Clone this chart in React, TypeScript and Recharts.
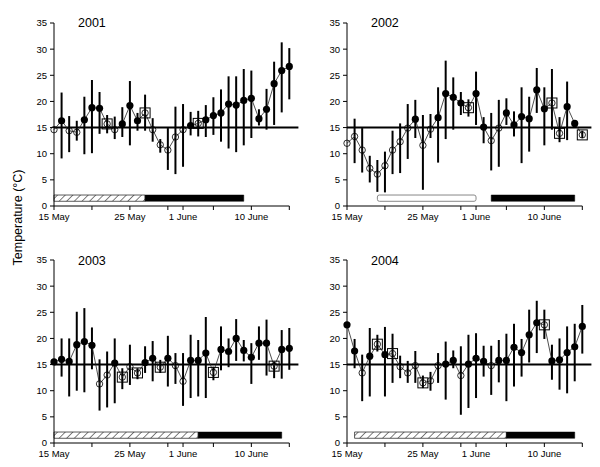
import {
  ComposedChart, ErrorBar, Line, ReferenceArea, ReferenceLine, XAxis, YAxis,
} from "recharts";

const FONT = "'Liberation Sans', Arial, Helvetica, sans-serif";

// day index 0 = 15 May ... 31 = 15 June
const days = [0, 1, 2, 3, 4, 5, 6, 7, 8, 9, 10, 11, 12, 13, 14, 15, 16, 17, 18, 19, 20, 21, 22, 23, 24, 25, 26, 27, 28, 29, 30, 31];
const tickDays = [0, 5, 10, 15, 17, 21, 26, 31];
const tickText = ["15 May", "", "25 May", "", "1 June", "", "10 June", ""];
const yTicks = [0, 5, 10, 15, 20, 25, 30, 35];
const threshold = 15;

const mean2001 = [14.6, 16.3, 14.4, 14.1, 16.5, 18.8, 18.7, 15.7, 14.6, 15.7, 19.2, 16.3, 17.8, 14.6, 11.7, 10.7, 13.2, 14.6, 15.4, 15.8, 16.5, 17.3, 17.8, 19.5, 19.3, 20.2, 20.6, 16.7, 18.5, 23.4, 25.9, 26.7];
const low2001 = [14.6, 9.1, 10.3, 12.5, 9.9, 10.1, 13.8, 13.9, 12.8, 13.2, 11.6, 14.4, 14.4, 12.3, 10.2, 6.9, 6.1, 7.5, 13.5, 13.3, 13.2, 13.6, 12.3, 11.0, 10.3, 11.6, 13.0, 15.4, 14.6, 15.5, 17.9, 20.4];
const high2001 = [14.6, 21.7, 17.2, 16.3, 20.9, 24.1, 21.8, 17.4, 17.1, 18.9, 23.9, 17.8, 21.3, 16.8, 12.8, 14.9, 19.0, 19.5, 18.0, 18.2, 19.3, 20.8, 22.3, 24.8, 24.8, 26.2, 25.9, 18.5, 22.4, 27.6, 31.3, 30.2];
const boxed2001 = [7, 12, 19];

const mean2002 = [12.0, 13.3, 10.7, 7.2, 6.1, 7.7, 10.7, 12.3, 14.9, 16.6, 11.6, 14.7, 16.9, 21.5, 20.8, 19.7, 18.8, 21.5, 15.1, 12.5, 14.9, 17.8, 15.5, 17.1, 16.7, 22.2, 18.6, 19.7, 13.9, 19.0, 15.8, 13.6];
const low2002 = [12.0, 8.2, 6.4, 4.5, 2.7, 2.6, 6.1, 6.3, 9.0, 13.0, 3.1, 13.0, 8.3, 12.8, 14.6, 17.4, 17.1, 15.5, 12.0, 6.8, 7.5, 15.5, 13.3, 8.2, 10.4, 17.8, 11.6, 14.6, 12.2, 12.6, 15.2, 13.0];
const high2002 = [12.0, 16.7, 14.9, 9.6, 8.8, 10.4, 14.4, 15.8, 19.5, 20.3, 17.4, 17.6, 22.7, 27.8, 24.6, 21.8, 20.4, 25.7, 17.0, 17.8, 20.3, 20.6, 18.1, 22.7, 20.9, 26.4, 22.7, 26.2, 17.0, 23.8, 16.3, 14.4];
const boxed2002 = [16, 27, 28, 31];

const mean2003 = [15.5, 16.0, 15.6, 18.8, 19.4, 18.7, 11.3, 13.0, 15.3, 12.6, 14.6, 13.4, 15.4, 16.2, 14.5, 16.2, 14.8, 11.8, 15.8, 15.8, 17.2, 13.5, 17.9, 17.5, 20.0, 17.7, 16.4, 19.1, 19.1, 14.7, 17.9, 18.1];
const low2003 = [15.5, 12.7, 8.9, 10.0, 9.7, 14.1, 6.2, 6.8, 7.6, 10.3, 11.1, 12.2, 13.4, 11.8, 13.4, 10.8, 11.3, 7.1, 8.6, 8.9, 8.6, 12.0, 13.9, 14.5, 15.7, 15.6, 11.3, 15.9, 12.9, 12.4, 12.3, 14.0];
const high2003 = [15.5, 20.0, 20.0, 25.1, 25.8, 22.1, 16.0, 17.5, 20.0, 14.3, 18.8, 14.3, 18.5, 19.5, 15.9, 20.5, 17.2, 17.2, 20.7, 19.7, 24.1, 14.6, 22.3, 20.0, 23.7, 19.7, 19.1, 22.3, 23.6, 15.6, 21.6, 22.0];
const boxed2003 = [9, 11, 14, 21, 29];

const mean2004 = [22.6, 17.6, 13.4, 16.6, 18.9, 16.9, 17.1, 14.6, 13.4, 14.8, 11.5, 11.9, 14.8, 15.1, 15.8, 12.9, 15.1, 16.2, 15.6, 14.8, 15.8, 15.8, 18.3, 17.3, 20.7, 23.0, 22.6, 15.7, 15.9, 17.3, 18.4, 22.3];
const low2004 = [22.6, 14.3, 8.0, 8.9, 17.5, 8.9, 11.5, 12.4, 11.5, 11.5, 10.5, 10.0, 11.5, 8.3, 14.3, 5.4, 6.7, 8.6, 12.7, 9.2, 11.6, 8.0, 10.8, 12.7, 15.4, 17.2, 19.9, 12.1, 10.2, 9.5, 11.8, 17.1];
const high2004 = [22.6, 19.9, 16.9, 22.0, 20.7, 22.2, 20.9, 16.7, 15.7, 17.6, 12.9, 13.6, 17.2, 19.4, 17.7, 18.5, 20.7, 21.0, 18.6, 18.6, 19.7, 20.9, 22.8, 19.9, 25.5, 27.2, 25.5, 18.8, 20.0, 22.3, 22.8, 26.4];
const boxed2004 = [4, 6, 10, 26];

// periods drawn as bars along the bottom (day from / to)
const periods2001 = [{ from: 0, to: 12, kind: "hatch" }, { from: 12, to: 25, kind: "solid" }];
const periods2002 = [{ from: 4, to: 17, kind: "open" }, { from: 19, to: 30, kind: "solid" }];
const periods2003 = [{ from: 0, to: 19, kind: "hatch" }, { from: 19, to: 30, kind: "solid" }];
const periods2004 = [{ from: 1, to: 21, kind: "hatch" }, { from: 21, to: 30, kind: "solid" }];

type Period = { from: number; to: number; kind: string };

function buildRows(mean: number[], low: number[], high: number[], boxed: number[]) {
  return days.map((d, i) => ({
    day: d,
    mean: mean[i],
    err: [mean[i] - low[i], high[i] - mean[i]],
    boxed: boxed.includes(i),
  }));
}

const renderDot = (props: any) => {
  const { cx, cy, payload, index } = props;
  if (cx == null || cy == null) return <g key={`d${index}`} />;
  const open = payload.boxed || payload.mean <= threshold;
  return (
    <g key={`d${index}`}>
      {payload.boxed && (
        <rect x={cx - 5} y={cy - 5} width={10} height={10} fill="none" stroke="#000" strokeWidth={1} />
      )}
      <circle cx={cx} cy={cy} r={open ? 3.2 : 3.6} fill={open ? "none" : "#000"}
        stroke="#000" strokeWidth={open ? 0.8 : 0} />
    </g>
  );
};

const periodStyle: Record<string, any> = {
  hatch: { fill: "url(#hatch)", stroke: "#333", strokeWidth: 0.8 },
  open: { fill: "#fff", stroke: "#888", strokeWidth: 1, radius: 2 },
  solid: { fill: "#000", stroke: "#000", strokeWidth: 0.5 },
};

const tickStyle = { fontSize: 9.5, fill: "#000", fontFamily: FONT };

function Panel({ left, top, rows, periods }: { left: number; top: number; rows: any[]; periods: Period[] }) {
  return (
    <div style={{ position: "absolute", left, top, width: 300, height: 233 }}>
      <ComposedChart width={300} height={233} data={rows} margin={{ top: 23, right: 10.7, left: 24, bottom: 7 }}>
        <XAxis type="number" dataKey="day" domain={[0, 31]} ticks={tickDays} interval={0}
          tickFormatter={(v: number) => tickText[tickDays.indexOf(v)] ?? ""}
          tick={tickStyle} tickSize={4} tickMargin={3} height={20}
          axisLine={{ stroke: "#000" }} tickLine={{ stroke: "#000" }} />
        <YAxis type="number" domain={[0, 35]} ticks={yTicks} interval={0} allowDataOverflow
          tick={tickStyle} tickSize={4} tickMargin={3} width={30}
          axisLine={{ stroke: "#000" }} tickLine={{ stroke: "#000" }} />
        {periods.map((p, i) => (
          <ReferenceArea key={i} x1={p.from} x2={p.to} y1={0.9} y2={2.1}
            ifOverflow="visible" fillOpacity={1} {...periodStyle[p.kind]} />
        ))}
        <ReferenceLine segment={[{ x: 0, y: threshold }, { x: 32.2, y: threshold }]}
          ifOverflow="visible" stroke="#000" strokeWidth={2} />
        <Line dataKey="mean" stroke="#222" strokeWidth={0.8} dot={renderDot}
          activeDot={false} isAnimationActive={false}>
          <ErrorBar dataKey="err" direction="y" width={0} stroke="#000" strokeWidth={2}
            isAnimationActive={false} />
        </Line>
      </ComposedChart>
    </div>
  );
}

export default function App() {
  return (
    <div style={{ position: "absolute", left: 0, top: 0, width: 600, height: 467, background: "#fff" }}>
      <svg width={600} height={467} style={{ position: "absolute", left: 0, top: 0 }}>
        <defs>
          <pattern id="hatch" width={5.4} height={10} patternUnits="userSpaceOnUse" patternTransform="rotate(45)">
            <rect width={5.4} height={10} fill="#fff" />
            <line x1={0} y1={0} x2={0} y2={10} stroke="#000" strokeWidth={1} />
          </pattern>
        </defs>
        <g fontFamily={FONT} fontSize={12.5} fill="#000">
          <text x={78} y={27.3}>2001</text>
          <text x={371} y={27.3}>2002</text>
          <text x={78} y={265}>2003</text>
          <text x={371} y={265}>2004</text>
          <text x={22.3} y={217.5} textAnchor="middle" transform="rotate(-90, 22.3, 217.5)">
            Temperature (°C)
          </text>
        </g>
      </svg>
      <Panel left={0} top={0.3} rows={buildRows(mean2001, low2001, high2001, boxed2001)} periods={periods2001} />
      <Panel left={293.3} top={0.3} rows={buildRows(mean2002, low2002, high2002, boxed2002)} periods={periods2002} />
      <Panel left={0} top={237.3} rows={buildRows(mean2003, low2003, high2003, boxed2003)} periods={periods2003} />
      <Panel left={293.3} top={237.3} rows={buildRows(mean2004, low2004, high2004, boxed2004)} periods={periods2004} />
    </div>
  );
}
